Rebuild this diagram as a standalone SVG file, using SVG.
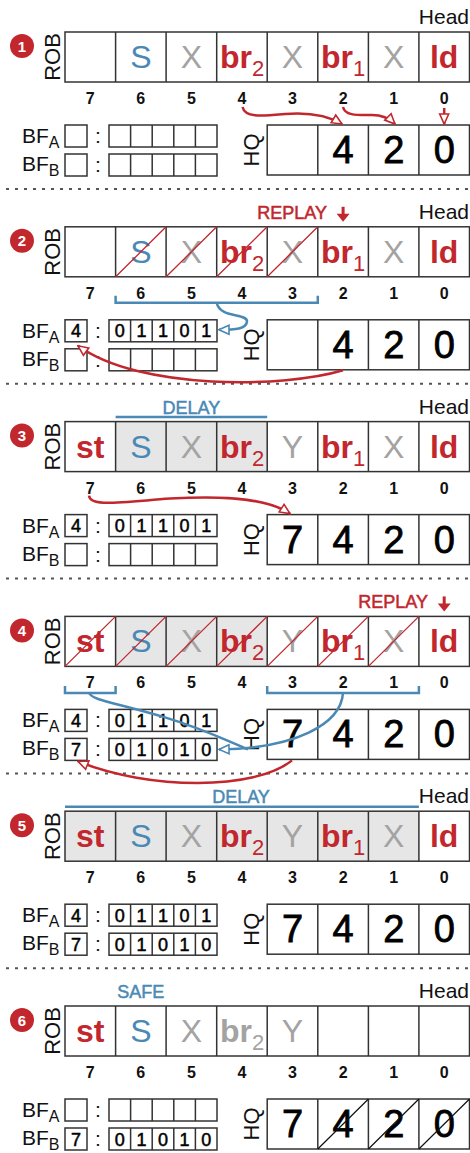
<svg xmlns="http://www.w3.org/2000/svg" width="470" height="1153" viewBox="0 0 470 1153">
<style>
text{font-family:"Liberation Sans",Arial,Helvetica,sans-serif}
.c{font-size:32px;text-anchor:middle}
.b{font-weight:bold}
.r{fill:#c1272d}
.bl{fill:#4a89b5}
.g{fill:#a3a3a3}
.sub{font-size:22px;font-weight:normal}
.idx{font-size:16px;font-weight:bold;text-anchor:middle;fill:#111}
.hq{font-size:38px;text-anchor:middle;fill:#000;stroke:#000;stroke-width:0.8}
.bit{font-size:18px;text-anchor:middle;fill:#000;stroke:#000;stroke-width:0.5}
.head{font-size:21px;text-anchor:end;fill:#111}
.rl{font-size:22px;text-anchor:middle;fill:#111}
.bf{font-size:21px;fill:#111}
.tag{font-size:18px;text-anchor:middle;stroke-width:0.5}
.tag.r{stroke:#c1272d}
.tag.bl{stroke:#4a89b5}
.grid{fill:none;stroke:#333;stroke-width:1.5}
.x{stroke:#c1272d;stroke-width:1.3}
.k{stroke:#111;stroke-width:1.2}
.sep{stroke:#555;stroke-width:2;stroke-dasharray:3 6}
.cr{fill:none;stroke:#c1272d;stroke-width:2.5}
.cb{fill:none;stroke:#4a89b5;stroke-width:2.5}
.shade{fill:#e6e6e6}
.badge{fill:#c1272d}
.bn{font-size:15px;font-weight:bold;fill:#fff;text-anchor:middle}
.tl{stroke:#4a89b5;stroke-width:2.5}
</style>
<defs>
<marker id="ar" viewBox="0 0 12 12" refX="11" refY="6" markerWidth="12" markerHeight="12" markerUnits="userSpaceOnUse" orient="auto"><path d="M1,1.5 L11,6 L1,10.5 z" fill="#fff" stroke="#c1272d" stroke-width="1.6"/></marker>
<marker id="ab" viewBox="0 0 12 12" refX="11" refY="6" markerWidth="12" markerHeight="12" markerUnits="userSpaceOnUse" orient="auto"><path d="M1,1.5 L11,6 L1,10.5 z" fill="#fff" stroke="#4a89b5" stroke-width="1.6"/></marker>
<g id="robgrid">
<rect class="grid" x="65" y="32" width="404.5" height="50"/>
<path class="grid" d="M115.6,32V82M166.1,32V82M216.7,32V82M267.2,32V82M317.8,32V82M368.4,32V82M418.9,32V82"/>
<text class="rl" transform="translate(60,57) rotate(-90)">ROB</text>
</g>
<g id="idx">
<text class="idx" x="90.3" y="104">7</text>
<text class="idx" x="140.8" y="104">6</text>
<text class="idx" x="191.4" y="104">5</text>
<text class="idx" x="242" y="104">4</text>
<text class="idx" x="292.5" y="104">3</text>
<text class="idx" x="343.1" y="104">2</text>
<text class="idx" x="393.7" y="104">1</text>
<text class="idx" x="444.2" y="104">0</text>
</g>
<g id="bfframe">
<text class="bf" x="22" y="143">BF<tspan font-size="16" dy="5">A</tspan></text>
<text class="bf" x="22" y="171">BF<tspan font-size="16" dy="5">B</tspan></text>
<rect class="grid" x="65" y="125" width="22" height="22"/>
<rect class="grid" x="65" y="154" width="22" height="22"/>
<text class="bf" x="98" y="143" text-anchor="middle">:</text>
<text class="bf" x="98" y="172" text-anchor="middle">:</text>
<rect class="grid" x="109" y="125" width="108" height="22"/>
<path class="grid" d="M130.6,125V147M152.2,125V147M173.8,125V147M195.4,125V147"/>
<rect class="grid" x="109" y="154" width="108" height="22"/>
<path class="grid" d="M130.6,154V176M152.2,154V176M173.8,154V176M195.4,154V176"/>
</g>
<g id="hqgrid">
<rect class="grid" x="267.2" y="125" width="202.3" height="50"/>
<path class="grid" d="M317.8,125V175M368.4,125V175M418.9,125V175"/>
<text class="rl" transform="translate(259,150) rotate(-90)">HQ</text>
</g>
<g id="bitsA">
<text class="bit" x="76" y="142.5">4</text>
<text class="bit" x="119.8" y="142.5">0</text>
<text class="bit" x="141.4" y="142.5">1</text>
<text class="bit" x="163" y="142.5">1</text>
<text class="bit" x="184.6" y="142.5">0</text>
<text class="bit" x="206.2" y="142.5">1</text>
</g>
<g id="bitsB">
<text class="bit" x="76" y="171.5">7</text>
<text class="bit" x="119.8" y="171.5">0</text>
<text class="bit" x="141.4" y="171.5">1</text>
<text class="bit" x="163" y="171.5">0</text>
<text class="bit" x="184.6" y="171.5">1</text>
<text class="bit" x="206.2" y="171.5">0</text>
</g>
<g id="hq420">
<text class="hq" x="343.1" y="163">4</text>
<text class="hq" x="393.7" y="163">2</text>
<text class="hq" x="444.2" y="163">0</text>
</g>
<g id="down">
<path d="M0,12V21" stroke="#c1272d" stroke-width="3"/>
<path d="M-6.5,19H6.5L0,27z" fill="#c1272d"/>
</g>
<line id="sepl" class="sep" x1="6" y1="189" x2="470" y2="189"/>
<text id="head" class="head" x="469" y="24">Head</text>
</defs>

<!-- Step 1 -->
<g id="step1">
<circle class="badge" cx="22" cy="46" r="12"/><text class="bn" x="22" y="51.5">1</text>
<use href="#head"/>
<use href="#robgrid"/>
<text class="c bl" x="140.8" y="68">S</text>
<text class="c g" x="191.4" y="68">X</text>
<text class="c b r" x="242" y="68">br<tspan class="sub" dy="8">2</tspan></text>
<text class="c g" x="292.5" y="68">X</text>
<text class="c b r" x="343.1" y="68">br<tspan class="sub" dy="8">1</tspan></text>
<text class="c g" x="393.7" y="68">X</text>
<text class="c b r" x="444.2" y="68">ld</text>
<use href="#idx"/>
<use href="#bfframe"/>
<use href="#hqgrid"/>
<use href="#hq420"/>
<use href="#sepl"/>
</g>

<!-- Step 2 -->
<g id="step2" transform="translate(0,194.8)">
<circle class="badge" cx="22" cy="46" r="12"/><text class="bn" x="22" y="51.5">2</text>
<text class="tag r" x="327" y="24" style="text-anchor:end">REPLAY</text>
<use href="#down" x="343.1"/>
<use href="#head"/>
<use href="#robgrid"/>
<text class="c bl" x="140.8" y="68">S</text>
<text class="c g" x="191.4" y="68">X</text>
<text class="c b r" x="242" y="68">br<tspan class="sub" dy="8">2</tspan></text>
<text class="c g" x="292.5" y="68">X</text>
<text class="c b r" x="343.1" y="68">br<tspan class="sub" dy="8">1</tspan></text>
<text class="c g" x="393.7" y="68">X</text>
<text class="c b r" x="444.2" y="68">ld</text>
<path class="x" d="M115.6,82L166.1,32M166.1,82L216.7,32M216.7,82L267.2,32M267.2,82L317.8,32"/>
<use href="#idx"/>
<use href="#bfframe"/>
<use href="#bitsA"/>
<use href="#hqgrid"/>
<use href="#hq420"/>
<use href="#sepl"/>
</g>

<!-- Step 3 -->
<g id="step3" transform="translate(0,389.6)">
<circle class="badge" cx="22" cy="46" r="12"/><text class="bn" x="22" y="51.5">3</text>
<text class="tag bl" x="191.4" y="24">DELAY</text>
<line class="tl" x1="115.6" y1="27.5" x2="267.2" y2="27.5"/>
<use href="#head"/>
<rect class="shade" x="115.6" y="32" width="151.6" height="50"/>
<use href="#robgrid"/>
<text class="c b r" x="90.3" y="68">st</text>
<text class="c bl" x="140.8" y="68">S</text>
<text class="c g" x="191.4" y="68">X</text>
<text class="c b r" x="242" y="68">br<tspan class="sub" dy="8">2</tspan></text>
<text class="c g" x="292.5" y="68">Y</text>
<text class="c b r" x="343.1" y="68">br<tspan class="sub" dy="8">1</tspan></text>
<text class="c g" x="393.7" y="68">X</text>
<text class="c b r" x="444.2" y="68">ld</text>
<use href="#idx"/>
<use href="#bfframe"/>
<use href="#bitsA"/>
<use href="#hqgrid"/>
<text class="hq" x="292.5" y="163">7</text>
<use href="#hq420"/>
<use href="#sepl"/>
</g>

<!-- Step 4 -->
<g id="step4" transform="translate(0,584.4)">
<circle class="badge" cx="22" cy="46" r="12"/><text class="bn" x="22" y="51.5">4</text>
<text class="tag r" x="428" y="24" style="text-anchor:end">REPLAY</text>
<use href="#down" x="444.2"/>
<rect class="shade" x="115.6" y="32" width="151.6" height="50"/>
<use href="#robgrid"/>
<text class="c b r" x="90.3" y="68">st</text>
<text class="c bl" x="140.8" y="68">S</text>
<text class="c g" x="191.4" y="68">X</text>
<text class="c b r" x="242" y="68">br<tspan class="sub" dy="8">2</tspan></text>
<text class="c g" x="292.5" y="68">Y</text>
<text class="c b r" x="343.1" y="68">br<tspan class="sub" dy="8">1</tspan></text>
<text class="c g" x="393.7" y="68">X</text>
<text class="c b r" x="444.2" y="68">ld</text>
<path class="x" d="M65,82L115.6,32M115.6,82L166.1,32M166.1,82L216.7,32M216.7,82L267.2,32M267.2,82L317.8,32M317.8,82L368.4,32M368.4,82L418.9,32"/>
<use href="#idx"/>
<use href="#bfframe"/>
<use href="#bitsA"/>
<use href="#bitsB"/>
<use href="#hqgrid"/>
<text class="hq" x="292.5" y="163">7</text>
<use href="#hq420"/>
<use href="#sepl"/>
</g>

<!-- Step 5 -->
<g id="step5" transform="translate(0,779.2)">
<circle class="badge" cx="22" cy="46" r="12"/><text class="bn" x="22" y="51.5">5</text>
<text class="tag bl" x="241" y="24">DELAY</text>
<line class="tl" x1="65" y1="27.5" x2="418.9" y2="27.5"/>
<use href="#head"/>
<rect class="shade" x="65" y="32" width="353.9" height="50"/>
<use href="#robgrid"/>
<text class="c b r" x="90.3" y="68">st</text>
<text class="c bl" x="140.8" y="68">S</text>
<text class="c g" x="191.4" y="68">X</text>
<text class="c b r" x="242" y="68">br<tspan class="sub" dy="8">2</tspan></text>
<text class="c g" x="292.5" y="68">Y</text>
<text class="c b r" x="343.1" y="68">br<tspan class="sub" dy="8">1</tspan></text>
<text class="c g" x="393.7" y="68">X</text>
<text class="c b r" x="444.2" y="68">ld</text>
<use href="#idx"/>
<use href="#bfframe"/>
<use href="#bitsA"/>
<use href="#bitsB"/>
<use href="#hqgrid"/>
<text class="hq" x="292.5" y="163">7</text>
<use href="#hq420"/>
<use href="#sepl"/>
</g>

<!-- Step 6 -->
<g id="step6" transform="translate(0,974)">
<circle class="badge" cx="22" cy="46" r="12"/><text class="bn" x="22" y="51.5">6</text>
<text class="tag bl" x="140.8" y="24">SAFE</text>
<use href="#head"/>
<use href="#robgrid"/>
<text class="c b r" x="90.3" y="68">st</text>
<text class="c bl" x="140.8" y="68">S</text>
<text class="c g" x="191.4" y="68">X</text>
<text class="c b g" x="242" y="68">br<tspan class="sub" dy="8">2</tspan></text>
<text class="c g" x="292.5" y="68">Y</text>
<use href="#idx"/>
<use href="#bfframe"/>
<use href="#bitsB"/>
<use href="#hqgrid"/>
<text class="hq" x="292.5" y="163">7</text>
<use href="#hq420"/>
<path class="k" d="M317.8,175L368.4,125M368.4,175L418.9,125M418.9,175L469.5,125"/>
</g>

<g id="connectors">
<g id="conn1">
<path class="cr" d="M242.5,107C245,118 262,116 285,114C310,112 327,115 342,124" marker-end="url(#ar)"/>
<path class="cr" d="M343,107C345,116 358,115 372,115C384,115 390,119 395,124" marker-end="url(#ar)"/>
<path class="cr" d="M444.2,108V124" marker-end="url(#ar)"/>
</g>
<g id="conn2" transform="translate(0,194.8)">
<path class="cb" d="M115.6,101V108H317.8V101"/>
<path class="cb" d="M216.7,108C220,124 248,118 247,127C246,134 236,135 219,135" marker-end="url(#ab)"/>
<path class="cr" d="M343,175.5C285,193 140,196 78,151" marker-end="url(#ar)"/>
</g>
<g id="conn3" transform="translate(0,389.6)">
<path class="cr" d="M89,106C90,117 115,113 170,109C235,105 270,111 290,124" marker-end="url(#ar)"/>
</g>
<g id="conn4" transform="translate(0,584.4)">
<path class="cb" d="M65,101.5V108.5H115.6V101.5M267.2,101.5V108.5H418.9V101.5"/>
<path class="cb" d="M89,108.5C92,116 115,118 165,133C205,145 228,157 248,165"/>
<path class="cb" d="M343,108.5C341,140 295,164 219,165" marker-end="url(#ab)"/>
<path class="cr" d="M292,176C255,206 150,206 78,177" marker-end="url(#ar)"/>
</g>
</g>
</svg>
